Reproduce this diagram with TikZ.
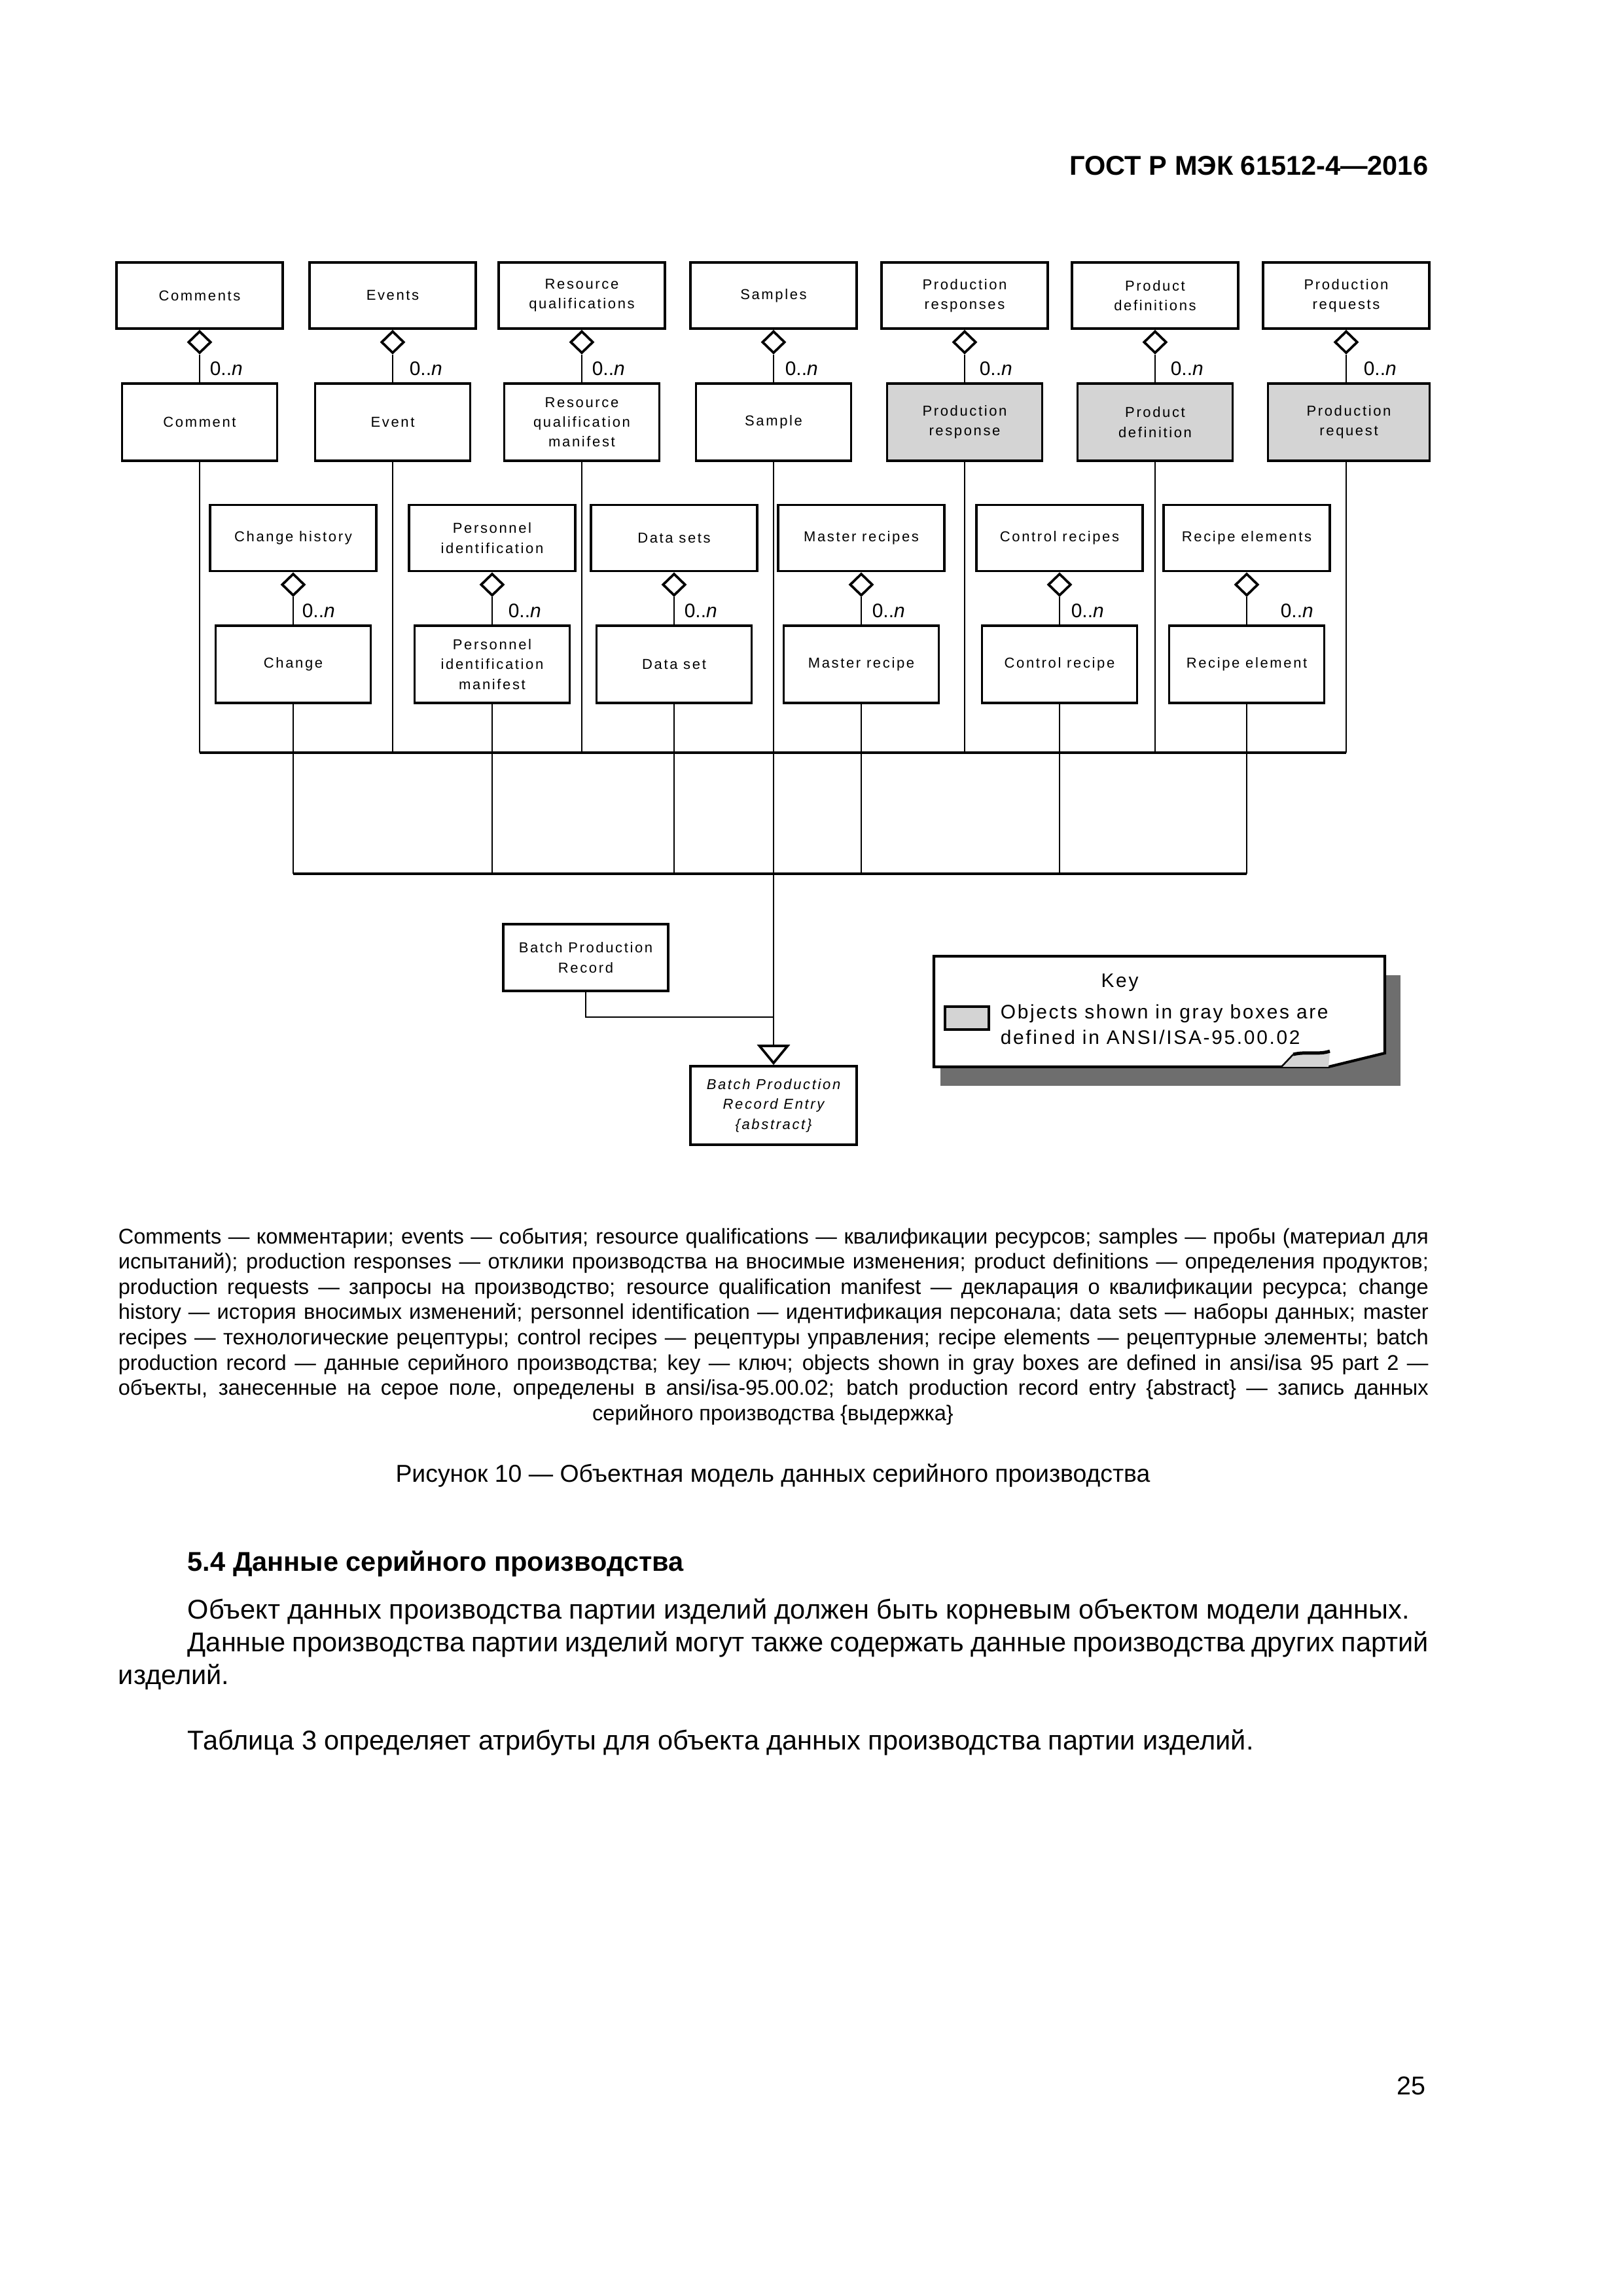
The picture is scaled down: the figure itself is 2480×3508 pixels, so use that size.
\documentclass[tikz,border=0pt]{standalone}
\usepackage{fontspec}
\setmainfont{Liberation Sans}
\newfontfamily\diagfont[LetterSpace=12]{Liberation Sans}
\newfontfamily\keyfont[LetterSpace=9]{Liberation Sans}
\usetikzlibrary{shapes.geometric,arrows.meta}
\newdimen\pxu \pxu=0.0846774mm
\definecolor{boxgray}{RGB}{212,212,212}
\definecolor{shadowgray}{RGB}{110,110,110}
\newcommand\diagtext{\diagfont\fontsize{5.3}{7.3}\selectfont}
\newcommand\multtext{\fontsize{7.2}{8.5}\selectfont}
\newcommand\keytext{\keyfont\fontsize{7.2}{9.4}\selectfont}
\tikzset{
  obj/.style={draw, line width=0.9pt, align=center, inner sep=0pt, font=\diagtext},
  upbox/.style={obj, minimum width=254\pxu, minimum height=101\pxu},
  lobox/.style={obj, minimum width=237\pxu, minimum height=118\pxu},
  isabox/.style={lobox, fill=boxgray},
  agg/.style={diamond, draw, line width=0.9pt, fill=white, minimum width=35\pxu, minimum height=34\pxu, inner sep=0pt, anchor=north},
  conn/.style={line width=0.7pt},
  bus/.style={line width=1.0pt},
  mult/.style={anchor=base west, inner sep=0pt, font=\multtext},
  txt/.style={anchor=base west, inner sep=0pt},
}
\begin{document}
\begin{tikzpicture}[x=\pxu, y=-\pxu]
\useasboundingbox (0,0) rectangle (2480,3508);
\fill[white] (0,0) rectangle (2480,3508);

% header
\node[anchor=base east, inner sep=0pt, font=\bfseries\fontsize{10}{12}\selectfont] (hdr) at (2183,267) {ГОСТ Р МЭК 61512-4—2016};

% ---- row 1 ----
\node[upbox] (Comments) at (305,451.5) {Comments};
\node[upbox] (Events) at (600,451.5) {Events};
\node[upbox] (ResQuals) at (889,451.5) {Resource\\qualifications};
\node[upbox] (Samples) at (1182,451.5) {Samples};
\node[upbox] (ProdResps) at (1474,451.5) {Production\\responses};
\node[upbox] (ProdDefs) at (1765,451.5) {Product\\definitions};
\node[upbox] (ProdReqs) at (2057,451.5) {Production\\requests};

\node[lobox] (Comment) at (305,645) {Comment};
\node[lobox] (Event) at (600,645) {Event};
\node[lobox] (ResQualMan) at (889,645) {Resource\\qualification\\manifest};
\node[lobox] (Sample) at (1182,645) {Sample};
\node[isabox] (ProdResp) at (1474,645) {Production\\response};
\node[isabox] (ProdDef) at (1765,645) {Product\\definition};
\node[isabox, minimum width=247\pxu] (ProdReq) at (2061,645) {Production\\request};

\foreach \a/\b/\m in {Comments/Comment/320, Events/Event/625, ResQuals/ResQualMan/904, Samples/Sample/1199, ProdResps/ProdResp/1496, ProdDefs/ProdDef/1788, ProdReqs/ProdReq/2083}{
  \node[agg] (d\a) at (\a.south) {};
  \draw[conn] (d\a.south) -- (\a.south |- \b.north);
  \node[mult] (m\a) at (\m,573) {0..\textit{n}};
}

% ---- row 2 ----
\node[upbox] (ChangeHist) at (448,822) {Change history};
\node[upbox] (PersIds) at (752,822) {Personnel\\identification};
\node[upbox] (DataSets) at (1030,822) {Data sets};
\node[upbox] (MasterRecs) at (1316,822) {Master recipes};
\node[upbox] (ControlRecs) at (1619,822) {Control recipes};
\node[upbox] (RecipeElems) at (1905,822) {Recipe elements};

\node[lobox] (Change) at (448,1015) {Change};
\node[lobox] (PersIdMan) at (752,1015) {Personnel\\identification\\manifest};
\node[lobox] (DataSet) at (1030,1015) {Data set};
\node[lobox] (MasterRec) at (1316,1015) {Master recipe};
\node[lobox] (ControlRec) at (1619,1015) {Control recipe};
\node[lobox] (RecipeElem) at (1905,1015) {Recipe element};

\foreach \a/\b/\m in {ChangeHist/Change/461, PersIds/PersIdMan/776, DataSets/DataSet/1045, MasterRecs/MasterRec/1332, ControlRecs/ControlRec/1636, RecipeElems/RecipeElem/1956}{
  \node[agg] (d\a) at (\a.south) {};
  \draw[conn] (d\a.south) -- (\b.north);
  \node[mult] (m\a) at (\m,943) {0..\textit{n}};
}

% ---- buses ----
\coordinate (bus1w) at (305,1150);
\coordinate (bus1e) at (2057,1150);
\coordinate (bus2w) at (448,1335);
\coordinate (bus2e) at (1905,1335);
\foreach \b in {Comment, Event, ResQualMan, ProdResp, ProdDef}{
  \draw[conn] (\b.south) -- (\b.south |- bus1w);
}
\draw[conn] (ProdReq.south -| bus1e) -- (bus1e);
\draw[bus] (bus1w) -- (bus1e);
\foreach \b in {Change, PersIdMan, DataSet, MasterRec, ControlRec, RecipeElem}{
  \draw[conn] (\b.south) -- (\b.south |- bus2w);
}
\draw[bus] (bus2w) -- (bus2e);

% ---- bottom ----
\node[upbox, minimum width=252\pxu, minimum height=102\pxu] (BPR) at (895,1463) {Batch Production\\Record};
\node[upbox, minimum height=120\pxu, font=\diagtext\itshape] (BPRE) at (1182,1689) {Batch Production\\Record Entry\\\{abstract\}};
\coordinate (join) at (1182,1554);
\draw[conn, -{Triangle[open, length=7.47pt, width=12.05pt, line width=0.9pt]}] (Sample.south) -- (BPRE.north);
\draw[conn] (BPR.south) |- (join);

% ---- key ----
\fill[shadowgray] (1437,1490) rectangle (2140,1659);
\draw[line width=1pt, fill=white] (1427,1461) -- (2116,1461) -- (2116,1609) -- (2030,1630) -- (1427,1630) -- cycle;
\fill[boxgray] (1958,1630) -- (1976,1611) .. controls (1995,1606) and (2015,1612) .. (2032,1606) -- (2030,1630) -- cycle;
\draw[line width=0.6pt] (1958,1630) -- (1976,1611);
\draw[line width=1.2pt] (1976,1611) .. controls (1995,1606) and (2015,1612) .. (2032,1606);
\node[inner sep=0pt, anchor=base, font=\keytext] (keytitle) at (1711,1508) {Key};
\node[draw, line width=1.1pt, fill=boxgray, minimum width=67\pxu, minimum height=35\pxu, inner sep=0pt] (swatch) at (1477.5,1555.5) {};
\node[txt, font=\keytext] (key1) at (1528,1556) {Objects shown in gray boxes are};
\node[txt, font=\keytext] (key2) at (1528,1595) {defined in ANSI/ISA-95.00.02};

% ---- legend text ----
\begin{scope}[every node/.style={txt, font=\fontsize{7.85}{9.3}\selectfont}]
\node (c1) at (180,1900) {\makebox[2002\pxu][s]{Comments — комментарии; events — события; resource qualifications — квалификации ресурсов; samples — пробы (материал для}};
\node (c2) at (180,1938.6) {\makebox[2002\pxu][s]{испытаний); production responses — отклики производства на вносимые изменения; product definitions — определения продуктов;}};
\node (c3) at (180,1977.2) {\makebox[2002\pxu][s]{production requests — запросы на производство; resource qualification manifest — декларация о квалификации ресурса; change}};
\node (c4) at (180,2015.8) {\makebox[2002\pxu][s]{history — история вносимых изменений; personnel identification — идентификация персонала; data sets — наборы данных; master}};
\node (c5) at (180,2054.4) {\makebox[2002\pxu][s]{recipes — технологические рецептуры; control recipes — рецептуры управления; recipe elements — рецептурные элементы; batch}};
\node (c6) at (180,2093) {\makebox[2002\pxu][s]{production record — данные серийного производства; key — ключ; objects shown in gray boxes are defined in ansi/isa 95 part 2 —}};
\node (c7) at (180,2131.6) {\makebox[2002\pxu][s]{объекты, занесенные на серое поле, определены в ansi/isa-95.00.02; batch production record entry \{abstract\} — запись данных}};
\node[anchor=base] (c8) at (1181,2170.2) {серийного производства \{выдержка\}};
\end{scope}

\node[anchor=base, inner sep=0pt, font=\fontsize{9}{11}\selectfont] (figcap) at (1181,2264) {Рисунок 10 — Объектная модель данных серийного производства};

\node[txt, font=\bfseries\fontsize{10}{12}\selectfont] (sec) at (286,2400) {5.4 Данные серийного производства};
\begin{scope}[every node/.style={txt, font=\fontsize{10}{12}\selectfont}]
\node (p1) at (286,2473) {Объект данных производства партии изделий должен быть корневым объектом модели данных.};
\node (p2) at (286,2523) {\makebox[1896\pxu][s]{Данные производства партии изделий могут также содержать данные производства других партий}};
\node (p3) at (180,2573) {изделий.};
\node (p4) at (286,2673) {Таблица 3 определяет атрибуты для объекта данных производства партии изделий.};
\end{scope}

\node[anchor=base east, inner sep=0pt, font=\fontsize{9.5}{11}\selectfont] (pageno) at (2179,3200) {25};
\end{tikzpicture}
\end{document}
